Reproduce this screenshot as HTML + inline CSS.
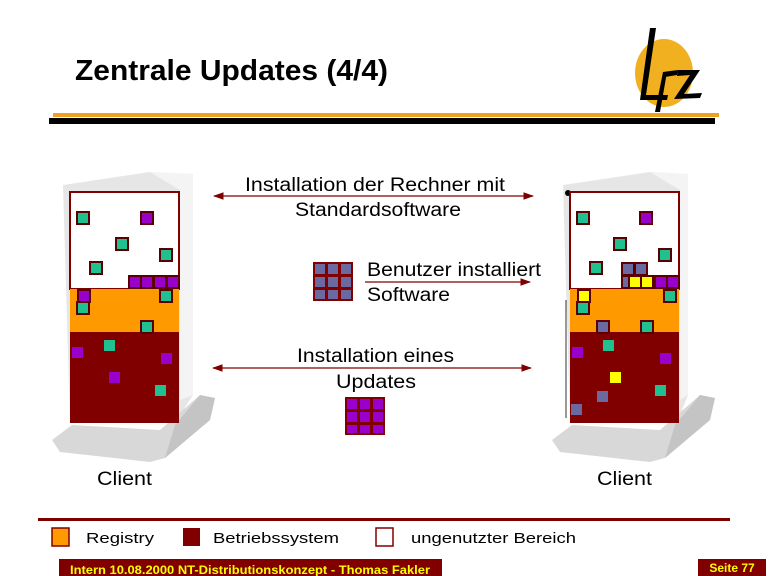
<!DOCTYPE html>
<html><head><meta charset="utf-8"><style>
html,body{margin:0;padding:0;background:#fff;}
svg{display:block;font-family:"Liberation Sans",sans-serif;}
</style></head><body>
<svg width="768" height="576" viewBox="0 0 768 576" xmlns="http://www.w3.org/2000/svg">
<defs>
<marker id="ah" viewBox="0 0 10 10" refX="9" refY="5" markerWidth="9" markerHeight="9" orient="auto-start-reverse"><path d="M0,1.5 L10,5 L0,8.5 z" fill="#800000"/></marker>
</defs>
<!-- title -->
<text x="75" y="80" font-size="29" font-weight="bold" fill="#000" textLength="313" lengthAdjust="spacingAndGlyphs">Zentrale Updates (4/4)</text>
<!-- logo -->
<ellipse cx="664" cy="73" rx="29" ry="34" fill="#f0b020"/>
<path d="M650,28 L656,28 L646,95 L668,95 L667,100 L640,100 Z" fill="#000"/>
<path d="M663,72 L667,72 L660,112 L655,112 Z" fill="#000"/>
<path d="M663,72 L678,70 L677,75 L665,77 Z" fill="#000"/>
<path d="M678,70 L700,70 L684,94 L702,93 L700,98 L674,99 L690,75 L677,76 Z" fill="#000"/>
<rect x="53" y="113" width="666" height="4" fill="#f0a020"/>
<rect x="49" y="118" width="666" height="6" fill="#000"/>

<!-- left server chassis -->
<g>
<path d="M63,185 L150,172 L193,174 L193,395 L180,415 L70,420 Z" fill="#e6e6e6"/>
<path d="M150,172 L193,174 L193,395 L180,400 L180,190 Z" fill="#f4f4f4"/>
<path d="M52,440 L72,425 L160,430 L200,395 L215,398 L210,420 L165,458 L150,462 L60,452 Z" fill="#d8d8d8"/>
<path d="M165,458 L210,420 L215,398 L200,395 L175,425 Z" fill="#c4c4c4"/>
<rect x="70" y="192" width="109" height="97" fill="#fff" stroke="#800000" stroke-width="2"/>
<rect x="70" y="289" width="109" height="43" fill="#ff9900"/>
<rect x="70" y="332" width="109" height="91" fill="#800000"/>
</g>
<!-- right server chassis -->
<g>
<path d="M563,185 L650,172 L688,174 L688,395 L680,415 L570,420 Z" fill="#e6e6e6"/>
<path d="M650,172 L688,174 L688,395 L680,400 L680,190 Z" fill="#f4f4f4"/>
<path d="M552,440 L572,425 L660,430 L700,395 L715,398 L710,420 L665,458 L650,462 L560,452 Z" fill="#d8d8d8"/>
<path d="M665,458 L710,420 L715,398 L700,395 L675,425 Z" fill="#c4c4c4"/>
<line x1="566" y1="300" x2="566" y2="418" stroke="#333" stroke-width="1"/>
<circle cx="568" cy="193" r="3" fill="#000"/>
<rect x="570" y="192" width="109" height="97" fill="#fff" stroke="#800000" stroke-width="2"/>
<rect x="570" y="289" width="109" height="43" fill="#ff9900"/>
<rect x="570" y="332" width="109" height="91" fill="#800000"/>
</g>

<g stroke="#5a0000" stroke-width="2">
<rect x="77" y="212" width="12" height="12" fill="#20c090"/>
<rect x="141" y="212" width="12" height="12" fill="#9900cc"/>
<rect x="116" y="238" width="12" height="12" fill="#20c090"/>
<rect x="160" y="249" width="12" height="12" fill="#20c090"/>
<rect x="90" y="262" width="12" height="12" fill="#20c090"/>
<rect x="129" y="276" width="12" height="12" fill="#9900cc"/>
<rect x="141" y="276" width="12" height="12" fill="#9900cc"/>
<rect x="154" y="276" width="12" height="12" fill="#9900cc"/>
<rect x="167" y="276" width="12" height="12" fill="#9900cc"/>
<rect x="78" y="290" width="12" height="12" fill="#9900cc"/>
<rect x="160" y="290" width="12" height="12" fill="#20c090"/>
<rect x="77" y="302" width="12" height="12" fill="#20c090"/>
<rect x="141" y="321" width="12" height="12" fill="#20c090"/>
<rect x="577" y="212" width="12" height="12" fill="#20c090"/>
<rect x="640" y="212" width="12" height="12" fill="#9900cc"/>
<rect x="614" y="238" width="12" height="12" fill="#20c090"/>
<rect x="659" y="249" width="12" height="12" fill="#20c090"/>
<rect x="590" y="262" width="12" height="12" fill="#20c090"/>
<rect x="622" y="263" width="12" height="12" fill="#6a6aa0"/>
<rect x="635" y="263" width="12" height="12" fill="#6a6aa0"/>
<rect x="622" y="276" width="12" height="12" fill="#6a6aa0"/>
<rect x="629" y="276" width="12" height="12" fill="#ffff00"/>
<rect x="641" y="276" width="12" height="12" fill="#ffff00"/>
<rect x="655" y="276" width="12" height="12" fill="#9900cc"/>
<rect x="667" y="276" width="12" height="12" fill="#9900cc"/>
<rect x="578" y="290" width="12" height="12" fill="#ffff00"/>
<rect x="664" y="290" width="12" height="12" fill="#20c090"/>
<rect x="577" y="302" width="12" height="12" fill="#20c090"/>
<rect x="597" y="321" width="12" height="12" fill="#6a6aa0"/>
<rect x="641" y="321" width="12" height="12" fill="#20c090"/>
</g>
<g>
<rect x="104" y="340" width="11" height="11" fill="#20c090"/>
<rect x="72" y="347" width="11" height="11" fill="#9900cc"/>
<rect x="161" y="353" width="11" height="11" fill="#9900cc"/>
<rect x="109" y="372" width="11" height="11" fill="#9900cc"/>
<rect x="155" y="385" width="11" height="11" fill="#20c090"/>
<rect x="603" y="340" width="11" height="11" fill="#20c090"/>
<rect x="572" y="347" width="11" height="11" fill="#9900cc"/>
<rect x="660" y="353" width="11" height="11" fill="#9900cc"/>
<rect x="610" y="372" width="11" height="11" fill="#ffff00"/>
<rect x="655" y="385" width="11" height="11" fill="#20c090"/>
<rect x="597" y="391" width="11" height="11" fill="#6a6aa0"/>
<rect x="571" y="404" width="11" height="11" fill="#6a6aa0"/>
</g>

<!-- arrows -->
<line x1="214" y1="196" x2="533" y2="196" stroke="#800000" stroke-width="1.2" marker-start="url(#ah)" marker-end="url(#ah)"/>
<line x1="365" y1="282" x2="530" y2="282" stroke="#800000" stroke-width="1.2" marker-end="url(#ah)"/>
<line x1="213" y1="368" x2="531" y2="368" stroke="#800000" stroke-width="1.2" marker-start="url(#ah)" marker-end="url(#ah)"/>
<g font-size="19" fill="#000" lengthAdjust="spacingAndGlyphs">
<text x="245" y="191" textLength="260" lengthAdjust="spacingAndGlyphs">Installation der Rechner mit</text>
<text x="295" y="216" textLength="166" lengthAdjust="spacingAndGlyphs">Standardsoftware</text>
<text x="297" y="362" textLength="157" lengthAdjust="spacingAndGlyphs">Installation eines</text>
<text x="336" y="388" textLength="80" lengthAdjust="spacingAndGlyphs">Updates</text>
<text x="97" y="485" textLength="55" lengthAdjust="spacingAndGlyphs">Client</text>
<text x="597" y="485" textLength="55" lengthAdjust="spacingAndGlyphs">Client</text>
<text x="367" y="276" textLength="174" lengthAdjust="spacingAndGlyphs">Benutzer installiert</text>
<text x="367" y="301" textLength="83" lengthAdjust="spacingAndGlyphs">Software</text>
</g>
<!-- grids -->
<rect x="313" y="262" width="40" height="39" fill="#800000"/>
<g fill="#6a6aa0">
<rect x="315" y="264" width="10" height="10"/><rect x="328" y="264" width="10" height="10"/><rect x="341" y="264" width="10" height="10"/>
<rect x="315" y="277" width="10" height="10"/><rect x="328" y="277" width="10" height="10"/><rect x="341" y="277" width="10" height="10"/>
<rect x="315" y="290" width="10" height="9"/><rect x="328" y="290" width="10" height="9"/><rect x="341" y="290" width="10" height="9"/>
</g>
<rect x="345" y="397" width="40" height="38" fill="#800000"/>
<g fill="#9900cc">
<rect x="347" y="399" width="10" height="10"/><rect x="360" y="399" width="10" height="10"/><rect x="373" y="399" width="10" height="10"/>
<rect x="347" y="412" width="10" height="10"/><rect x="360" y="412" width="10" height="10"/><rect x="373" y="412" width="10" height="10"/>
<rect x="347" y="425" width="10" height="8"/><rect x="360" y="425" width="10" height="8"/><rect x="373" y="425" width="10" height="8"/>
</g>

<!-- legend -->
<rect x="38" y="518" width="692" height="3" fill="#800000"/>
<rect x="52" y="528" width="17" height="18" fill="#ff9900" stroke="#800000" stroke-width="1.5"/>
<rect x="183" y="528" width="17" height="18" fill="#800000"/>
<rect x="376" y="528" width="17" height="18" fill="#fff" stroke="#800000" stroke-width="1.5"/>
<g font-size="15" fill="#000">
<text x="86" y="543" textLength="68" lengthAdjust="spacingAndGlyphs">Registry</text>
<text x="213" y="543" textLength="126" lengthAdjust="spacingAndGlyphs">Betriebssystem</text>
<text x="411" y="543" textLength="165" lengthAdjust="spacingAndGlyphs">ungenutzter Bereich</text>
</g>
<!-- footer -->
<rect x="59" y="559" width="383" height="17" fill="#800000"/>
<text x="250" y="574" font-size="12" font-weight="bold" fill="#ffff00" text-anchor="middle" textLength="360" lengthAdjust="spacingAndGlyphs">Intern 10.08.2000 NT-Distributionskonzept - Thomas Fakler</text>
<rect x="698" y="559" width="68" height="17" fill="#800000"/>
<text x="732" y="572" font-size="12" font-weight="bold" fill="#ffff00" text-anchor="middle">Seite 77</text>
</svg>
</body></html>
